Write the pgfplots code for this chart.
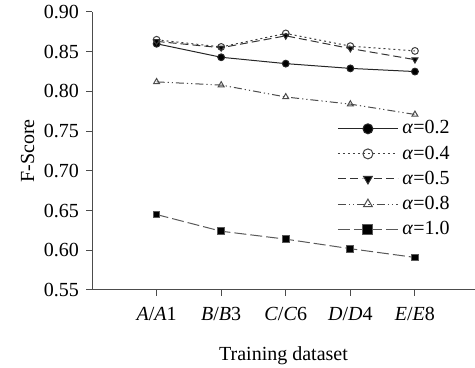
\documentclass[border=0pt]{standalone}
\usepackage{fontspec}
\setmainfont{Liberation Serif}
\usepackage{pgfplots}
\pgfplotsset{compat=1.18}
\begin{document}
\begin{tikzpicture}
\useasboundingbox (0,0) rectangle (237.5pt,184pt);
\begin{axis}[
  at={(46pt,39pt)}, anchor=south west,
  scale only axis, width=191.5pt, height=139pt,
  xmin=-1, xmax=4.93, ymin=0.55, ymax=0.90,
  axis x line*=bottom, axis y line*=left,
  axis line style={black!70, line width=0.5pt},
  tick align=outside, tick style={black!70, line width=0.5pt},
  major tick length=3pt,
  xtick={0,1,2,3,4},
  xticklabels={\textit{A}/\textit{A}1,\textit{B}/\textit{B}3,\textit{C}/\textit{C}6,\textit{D}/\textit{D}4,\textit{E}/\textit{E}8},
  xticklabel style={yshift=-2pt},
  ytick={0.55,0.60,0.65,0.70,0.75,0.80,0.85,0.90},
  yticklabel={\pgfmathprintnumber[assume math mode=true,fixed,precision=2,fixed zerofill]{\tick}},
  ticklabel style={font=\fontsize{10}{12}\selectfont},
  label style={font=\fontsize{10}{12}\selectfont},
  xlabel={Training dataset},
  xlabel style={yshift=-6pt},
  ylabel={F-Score},
  ylabel style={yshift=-2pt},
  legend style={draw=none, fill=none, at={(0.945,0.625)}, anchor=north east,
    font=\fontsize{10}{12}\selectfont, row sep=0.4pt, inner sep=0pt},
  legend cell align=left,
  legend image code/.code={\draw[mark repeat=2,mark phase=2] plot coordinates {(0pt,0pt) (15pt,0pt) (30pt,0pt)};},
  legend image post style={mark size=2.5pt},
  every axis plot/.append style={line width=0.5pt, mark size=1.7pt},
]
\addplot[black!85, solid, mark=*, mark options={solid, fill=black}] coordinates {(0,0.860) (1,0.843) (2,0.835) (3,0.829) (4,0.825)};
\addlegendentry{\textit{α}=0.2}
\addplot[black!75, dash pattern=on 1pt off 1.5pt, mark=o, mark options={solid, fill=white}] coordinates {(0,0.865) (1,0.856) (2,0.873) (3,0.857) (4,0.851)};
\addlegendentry{\textit{α}=0.4}
\addplot[black!80, dash pattern=on 4pt off 2pt, mark=triangle*, mark options={solid, fill=black, rotate=180}] coordinates {(0,0.863) (1,0.855) (2,0.870) (3,0.854) (4,0.840)};
\addlegendentry{\textit{α}=0.5}
\addplot[black!70, dash pattern=on 4pt off 1.5pt on 0.6pt off 1.5pt on 0.6pt off 1.5pt, mark=triangle, mark options={solid, fill=white}] coordinates {(0,0.812) (1,0.808) (2,0.793) (3,0.784) (4,0.771)};
\addlegendentry{\textit{α}=0.8}
\addplot[black!65, dash pattern=on 6pt off 2pt, mark=square*, mark options={solid, fill=black}] coordinates {(0,0.645) (1,0.624) (2,0.614) (3,0.602) (4,0.591)};
\addlegendentry{\textit{α}=1.0}
\end{axis}
\end{tikzpicture}
\end{document}
